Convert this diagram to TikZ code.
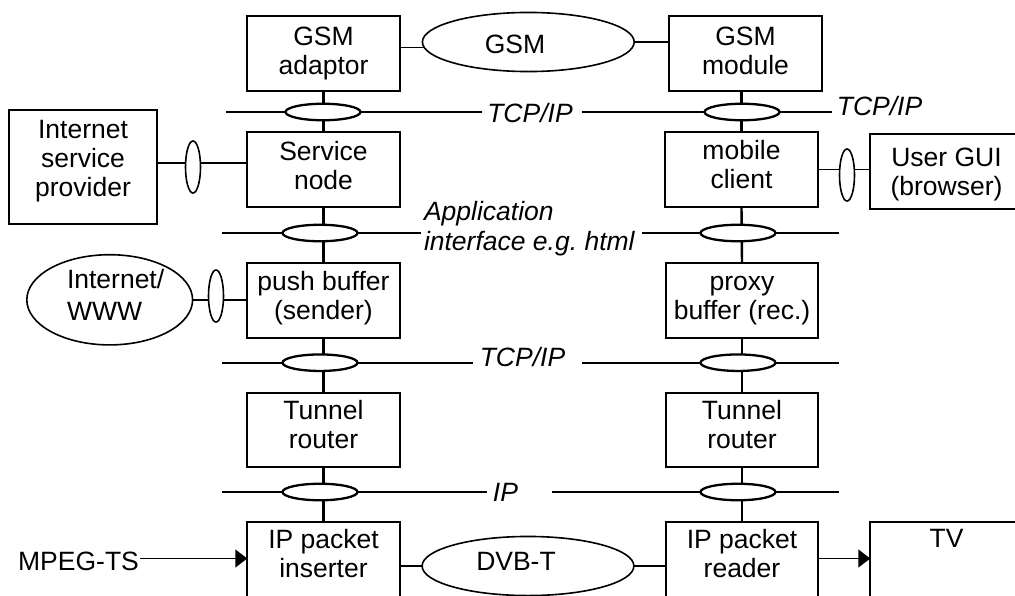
\documentclass[tikz,border=0pt]{standalone}
\usepackage{fontspec}
\setmainfont{Liberation Sans}
\usetikzlibrary{arrows.meta,shapes.geometric}
\newcommand\lblfont{\fontsize{26.5}{29}\selectfont}
\frenchspacing

\begin{document}
\begin{tikzpicture}[x=1pt,y=-1pt,
  box/.style={draw, line width=2.4pt, minimum width=152.5pt, minimum height=74.5pt, inner sep=0pt, outer sep=0pt},
  boxtext/.style={anchor=north, inner sep=0pt, outer sep=0pt, align=center, font=\lblfont},
  iface/.style={line width=2.4pt},
  port/.style={draw, ellipse, fill=white, line width=2.3pt, minimum width=75pt, minimum height=16.5pt, inner sep=0pt, outer sep=0pt},
  vport/.style={draw, ellipse, fill=white, line width=1.6pt, minimum width=15pt, minimum height=52pt, inner sep=0pt, outer sep=0pt},
  cloud/.style={draw, ellipse, line width=1.6pt, inner sep=0pt, outer sep=0pt},
  link/.style={line width=1.8pt},
  arr/.style={line width=1.6pt, -{Triangle[length=12pt,width=18pt]}},
  proto/.style={inner sep=0pt, outer sep=0pt, font=\lblfont\itshape, anchor=base},
  plain/.style={inner sep=0pt, outer sep=0pt, font=\lblfont},
]
\useasboundingbox (0,0) rectangle (1015,595);
\clip (0,0) rectangle (1015,595);

% ---- component boxes ----
\node[box] (adaptor)  at (323.5,53.5)  {};
\node[box] (module)   at (745.5,53.5)  {};
\node[box] (service)  at (323.5,169.5) {};
\node[box] (mobile)   at (741.5,169.5) {};
\node[box] (push)     at (323.5,300.5) {};
\node[box] (proxy)    at (742,300.5)   {};
\node[box] (tunnelL)  at (323.5,430)   {};
\node[box] (tunnelR)  at (742,430)     {};
\node[box] (inserter) at (323.5,559.5) {};
\node[box] (reader)   at (742,559.5)   {};
\node[box, minimum width=147.5pt, minimum height=113.5pt] (isp) at (83,167) {};
\node[box] (gui) at (946.5,171.5) {};
\node[box] (tv)  at (946.5,559.5) {};

% ---- box captions ----
\node[boxtext] (adaptor-t)  at ([yshift=-8.5pt]adaptor.north)  {\strut GSM\\\strut adaptor};
\node[boxtext] (module-t)   at ([yshift=-8.5pt]module.north)   {\strut GSM\\\strut module};
\node[boxtext] (service-t)  at ([yshift=-8.2pt]service.north)  {\strut Service\\\strut node};
\node[boxtext] (mobile-t)   at ([yshift=-6.8pt]mobile.north)   {\strut mobile\\\strut client};
\node[boxtext] (push-t)     at ([yshift=-7pt]push.north)       {\strut push buffer\\\strut (sender)};
\node[boxtext] (proxy-t)    at ([yshift=-7pt]proxy.north)      {\strut proxy\\\strut buffer (rec.)};
\node[boxtext] (tunnelL-t)  at ([yshift=-6.5pt]tunnelL.north)  {\strut Tunnel\\\strut router};
\node[boxtext] (tunnelR-t)  at ([yshift=-6.5pt]tunnelR.north)  {\strut Tunnel\\\strut router};
\node[boxtext] (inserter-t) at ([yshift=-6pt]inserter.north)   {\strut IP packet\\\strut inserter};
\node[boxtext] (reader-t)   at ([yshift=-6pt]reader.north)     {\strut IP packet\\\strut reader};
\node[boxtext] (isp-t)      at ([yshift=-7.5pt]isp.north)      {\strut Internet\\\strut service\\\strut provider};
\node[boxtext] (gui-t)      at ([yshift=-12.2pt]gui.north)     {\strut User GUI\\\strut (browser)};
\node[boxtext] (tv-t)       at ([yshift=-5pt]tv.north)         {\strut TV};

% ---- radio links ----
\node[cloud, minimum width=211.8pt, minimum height=59.1pt] (gsm) at (528.3,42) {};
\node[plain, anchor=base] (gsm-t) at (515,53.3) {GSM};
\node[cloud, minimum width=211.8pt, minimum height=59.1pt] (dvb) at (528,566) {};
\node[plain, anchor=base] (dvb-t) at (516,570) {DVB-T};
\draw[link] (gsm.183.9) -- (gsm.183.9 -| adaptor.east);
\draw[link] (gsm.east) -- (gsm.east -| module.west);
\draw[link] (dvb.west) -- (dvb.west -| inserter.east);
\draw[link] (dvb.east) -- (dvb.east -| reader.west);

% ---- Internet / WWW ----
\node[cloud, minimum width=165.8pt, minimum height=90.2pt] (www) at (109.7,299.8) {};
\node[plain, anchor=north west, align=left] (www-t) at (67,268) {\strut Internet/\\[2.7pt]\strut WWW};

% ---- side links ----
\draw[link] ([yshift=4pt]isp.east) -- ([yshift=4pt]isp.east -| service.west);
\draw[link] (www.east) -- (www.east -| push.west);
\draw[link] (mobile.east) -- (mobile.east -| gui.west);
\node[vport] (isp-p) at (193,167) {};
\node[vport] (www-p) at (216,296) {};
\node[vport] (gui-p) at (847,175) {};

% ---- MPEG-TS input and TV output ----
\node[plain, anchor=base] (mpeg) at (78.5,570) {MPEG-TS};
\coordinate (tsin) at (140,558.5);
\draw[arr] (tsin) -- (tsin -| inserter.west);
\draw[arr] (reader.east |- tsin) -- (tsin -| tv.west);

% ---- vertical stubs through the protocol layers ----
\draw[iface] (adaptor.south) -- (service.north);
\draw[iface] (service.south) -- (push.north);
\draw[iface] (push.south) -- (tunnelL.north);
\draw[iface] (tunnelL.south) -- (inserter.north);
\draw[iface] (mobile.north) -- (mobile.north |- module.south);
\draw[iface] (mobile.south) -- (proxy.north);
\draw[iface] (proxy.south) -- (tunnelR.north);
\draw[iface] (tunnelR.south) -- (reader.north);

% ---- protocol layer lines ----
\coordinate (l1a) at (226,112);   \coordinate (l1b) at (482,112);
\coordinate (l1c) at (582,112);   \coordinate (l1d) at (832,112);
\coordinate (l2a) at (222,233);   \coordinate (l2b) at (421,233);
\coordinate (l2c) at (642,233);   \coordinate (l2d) at (839,233);
\coordinate (l3a) at (222,362.7); \coordinate (l3b) at (473,362.7);
\coordinate (l3c) at (582,362.7); \coordinate (l3d) at (839,362.7);
\coordinate (l4a) at (222,492);   \coordinate (l4b) at (487,492);
\coordinate (l4c) at (552,492);   \coordinate (l4d) at (839,492);
\draw[iface] (l1a) -- (l1b) (l1c) -- (l1d);
\draw[iface] (l2a) -- (l2b) (l2c) -- (l2d);
\draw[iface] (l3a) -- (l3b) (l3c) -- (l3d);
\draw[iface] (l4a) -- (l4b) (l4c) -- (l4d);

\node[port] (p1L) at (323,112)   {};
\node[port] (p1R) at (742,112)   {};
\node[port] (p2L) at (320,233)   {};
\node[port] (p2R) at (738,233)   {};
\node[port] (p3L) at (320,362.7) {};
\node[port] (p3R) at (738,362.7) {};
\node[port] (p4L) at (320,492)   {};
\node[port] (p4R) at (738,492)   {};

% ---- protocol labels ----
\node[proto] (tcp1)  at (530,122)   {TCP/IP};
\node[proto] (tcp1r) at (879.5,115) {TCP/IP};
\node[proto, anchor=north west, align=left] (app) at (424,199.7) {\strut Application\\[1pt]\strut interface e.g.\ html};
\node[proto] (tcp2)  at (522.5,366) {TCP/IP};
\node[proto] (ip)    at (505.5,501.7) {IP};
\end{tikzpicture}
\end{document}
